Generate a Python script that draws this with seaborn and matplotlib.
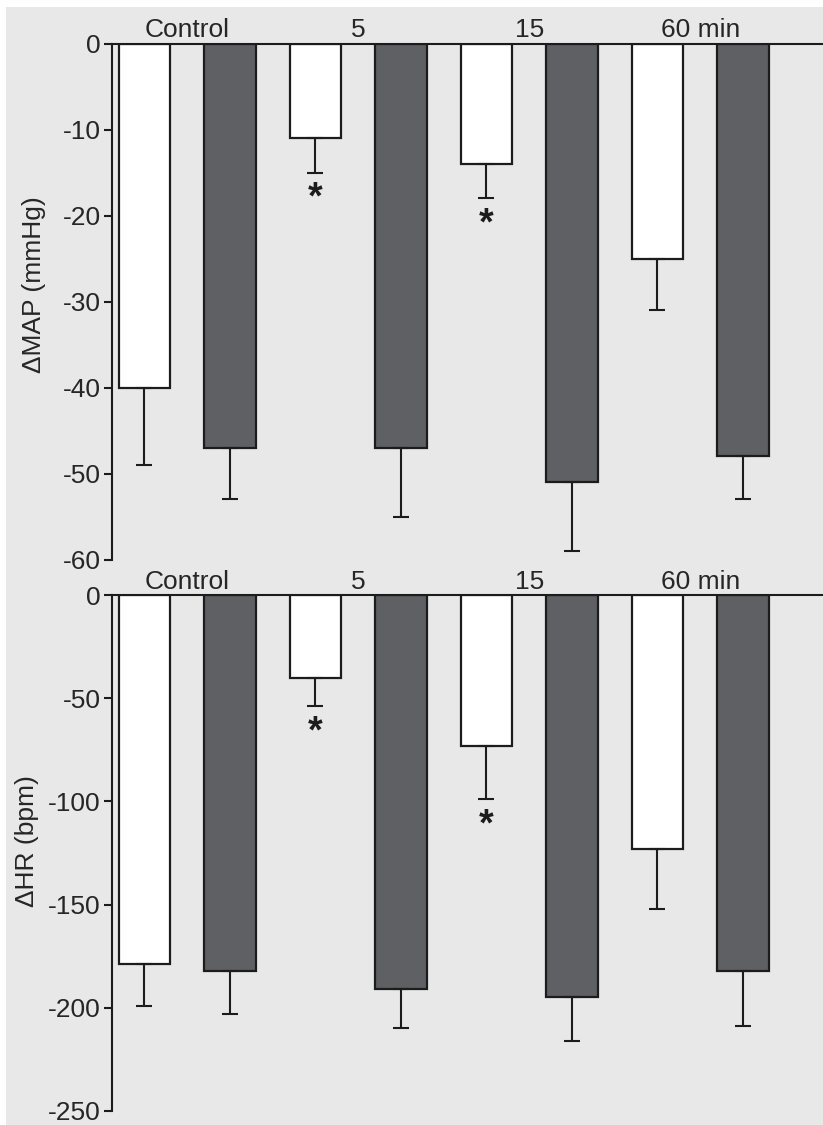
import pandas as pd
import matplotlib.pyplot as plt
import seaborn as sns
from matplotlib.patches import Rectangle

# ------------------ DATOS ------------------

tiempos = ["Control", "5", "15", "60 min"]
grupos = ["abierto", "relleno"]

map_abierto = [-40, -11, -14, -25]
map_abierto_err = [9, 4, 4, 6]
map_relleno = [-47, -47, -51, -48]
map_relleno_err = [6, 8, 8, 5]

hr_abierto = [-179, -40, -73, -123]
hr_abierto_err = [20, 14, 26, 29]
hr_relleno = [-182, -191, -195, -182]
hr_relleno_err = [21, 19, 21, 27]

# significancia (*) sobre las barras blancas
signif = [False, True, True, False]

# ------------------ ESTILO ------------------

sns.set_style("ticks")
plt.rcParams["font.family"] = ["Liberation Sans", "DejaVu Sans"]
plt.rcParams["axes.unicode_minus"] = False

FONDO = "#e8e8e8"
NEGRO = "#1c1c1c"
colores = ["#ffffff", "#5f6064"]
FS = 19


def panel(ax, abierto, abierto_err, relleno, relleno_err, ylim, yticks, ylabel, label_xy):
    df = pd.DataFrame({
        "tiempo": tiempos * 2,
        "grupo": [grupos[0]] * 4 + [grupos[1]] * 4,
        "valor": abierto + relleno,
    })
    sns.barplot(data=df, x="tiempo", y="valor", hue="grupo", order=tiempos,
                hue_order=grupos, palette=colores, width=1.0, gap=0.4,
                edgecolor=NEGRO, linewidth=1.6, errorbar=None, legend=False,
                saturation=1, ax=ax)

    # barras de error solo hacia abajo
    for cont, errs in zip(ax.containers, [abierto_err, relleno_err]):
        xs = [b.get_x() + b.get_width() / 2 for b in cont]
        ys = [b.get_y() + b.get_height() for b in cont]
        ax.errorbar(xs, ys, yerr=[errs, [0] * len(errs)], fmt="none",
                    ecolor=NEGRO, elinewidth=1.5, capsize=5.5, capthick=1.5,
                    zorder=1)

    # asteriscos
    cont = ax.containers[0]
    for b, e, s in zip(cont, abierto_err, signif):
        if s:
            x = b.get_x() + b.get_width() / 2
            y = b.get_y() + b.get_height() - e
            ax.annotate("*", (x, y), xytext=(0, -19), textcoords="offset points",
                        ha="center", va="center", fontsize=27, fontweight="bold",
                        color=NEGRO)

    ax.set_facecolor(FONDO)
    ax.set_ylim(*ylim)
    ax.set_xlim(-0.44, 3.718)
    ax.set_yticks(yticks)
    ax.set_xlabel("")
    ax.set_ylabel(ylabel, fontsize=FS)
    ax.yaxis.set_label_coords(*label_xy)
    ax.xaxis.tick_top()
    ax.tick_params(axis="x", length=0, pad=1, labelsize=FS)
    ax.tick_params(axis="y", length=6, width=1.5, pad=2, labelsize=FS, color=NEGRO)
    for s in ["bottom", "right"]:
        ax.spines[s].set_visible(False)
    for s in ["top", "left"]:
        ax.spines[s].set_linewidth(1.5)
        ax.spines[s].set_color(NEGRO)


fig = plt.figure(figsize=(8.23, 11.25), dpi=100, facecolor="white")
fig.patches.append(Rectangle((6 / 823, 0), 1, 1 - 7 / 1125, transform=fig.transFigure,
                             facecolor=FONDO, edgecolor="none", zorder=-10))

ax1 = fig.add_axes([0.1361, 0.5025, 0.8639, 0.4588])
ax2 = fig.add_axes([0.1361, 0.0125, 0.8639, 0.4586])

panel(ax1, map_abierto, map_abierto_err, map_relleno, map_relleno_err,
      (-60, 0), [0, -10, -20, -30, -40, -50, -60], "ΔMAP (mmHg)", (-0.093, 0.532))
panel(ax2, hr_abierto, hr_abierto_err, hr_relleno, hr_relleno_err,
      (-250, 0), [0, -50, -100, -150, -200, -250], "ΔHR (bpm)", (-0.103, 0.523))

plt.savefig("out.png", dpi=100, facecolor=fig.get_facecolor())
plt.close()
